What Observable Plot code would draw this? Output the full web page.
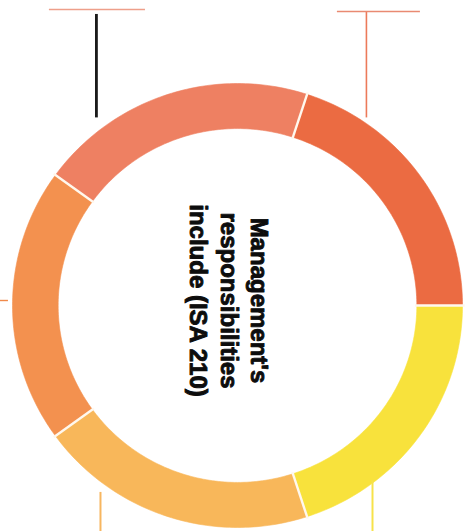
<!DOCTYPE html>
<html><head><meta charset="utf-8">
<script src="https://cdn.jsdelivr.net/npm/d3@7"></script>
<script src="https://cdn.jsdelivr.net/npm/@observablehq/plot@0.6"></script>
<style>html,body{margin:0;padding:0;background:#fff;} #chart svg{display:block}</style>
</head><body><div id="chart"></div>
<script>
// Slices, clockwise starting from 3 o'clock
const categories = [
  "Access to all relevant information",
  "Additional information requested",
  "Unrestricted access to persons",
  "Preparation of the financial statements",
  "Internal control"
];
const values = [1, 1, 1, 1, 1];
const colors = ["#F8E23C", "#F8B75A", "#F3914F", "#EE8062", "#EB6B42"];
const centerLabel = ["Management's", "responsibilities", "include (ISA 210)"];

// call-out leader lines (in ring-radius units), for labels cropped off the picture
const stems = [
  {key: categories[3], x: -0.627, y1: 1.311, y2: 0.845, color: "#1a1a1a", w: 2.8},
  {key: categories[4], x: 0.573, y1: 1.324, y2: 0.845, color: "#EC7A5A", w: 1.6},
  {key: categories[1], x: -0.609, y1: -0.842, y2: -1.02, color: "#F7B660", w: 2},
  {key: categories[0], x: 0.600, y1: -0.790, y2: -1.02, color: "#F7E24A", w: 2}
];
const bars = [
  {key: categories[3], y: 1.333, x1: -0.836, x2: -0.409, color: "#EE9F8A", w: 1.6},
  {key: categories[4], y: 1.324, x1: 0.444, x2: 0.813, color: "#E98A72", w: 1.6},
  {key: categories[2], y: 0.0225, x1: -1.06, x2: -1.018, color: "#F08A4A", w: 1.4}
];

const slices = categories.map((category, i) => ({category, value: values[i]}));
const pie = d3.pie().sort(null).value(d => d.value)
  .startAngle(Math.PI / 2).endAngle(Math.PI / 2 + 2 * Math.PI);
const arcs = pie(slices);
const R = 1, r = 0.797, N = 72;
const polys = arcs.flatMap(a => {
  const ts = d3.range(N + 1).map(i => a.startAngle + (a.endAngle - a.startAngle) * i / N);
  const ring = [
    ...ts.map(t => [R * Math.sin(t), R * Math.cos(t)]),
    ...ts.slice().reverse().map(t => [r * Math.sin(t), r * Math.cos(t)])
  ];
  ring.push(ring[0]);
  return ring.map(([x, y]) => ({key: a.data.category, x, y}));
});
const seps = arcs.map(a => ({
  x1: r * 0.99 * Math.sin(a.startAngle), y1: r * 0.99 * Math.cos(a.startAngle),
  x2: R * 1.01 * Math.sin(a.startAngle), y2: R * 1.01 * Math.cos(a.startAngle)
}));

const chart = Plot.plot({
  width: 467, height: 531, margin: 0,
  x: {domain: [-237 / 225, 230 / 225], axis: null},
  y: {domain: [-226 / 222, 305 / 222], axis: null},
  color: {domain: categories, range: colors},
  style: {background: "#fff"},
  marks: [
    Plot.line(polys, {x: "x", y: "y", z: "key", fill: "key", stroke: "key", strokeWidth: 0.6, curve: "linear"}),
    Plot.link(seps, {x1: "x1", y1: "y1", x2: "x2", y2: "y2", stroke: "#FFF8EE", strokeWidth: 2.4}),
    Plot.ruleX(stems, {x: "x", y1: "y1", y2: "y2", stroke: d => d.color, strokeWidth: d => d.w}),
    Plot.ruleY(bars, {y: "y", x1: "x1", x2: "x2", stroke: d => d.color, strokeWidth: d => d.w}),
    Plot.text([centerLabel.join("\n")], {
      x: () => 0, y: () => 0, text: d => d, rotate: 90,
      fontSize: 24, fontWeight: "bold", fontFamily: "'Liberation Sans', Arial, sans-serif",
      lineHeight: 1.27, lineAnchor: "middle", textAnchor: "middle",
      dx: -7, dy: -5, fill: "#0d0d0d", stroke: "#0d0d0d", strokeWidth: 0.9
    })
  ]
});
document.getElementById("chart").appendChild(chart);
</script>
</body></html>
